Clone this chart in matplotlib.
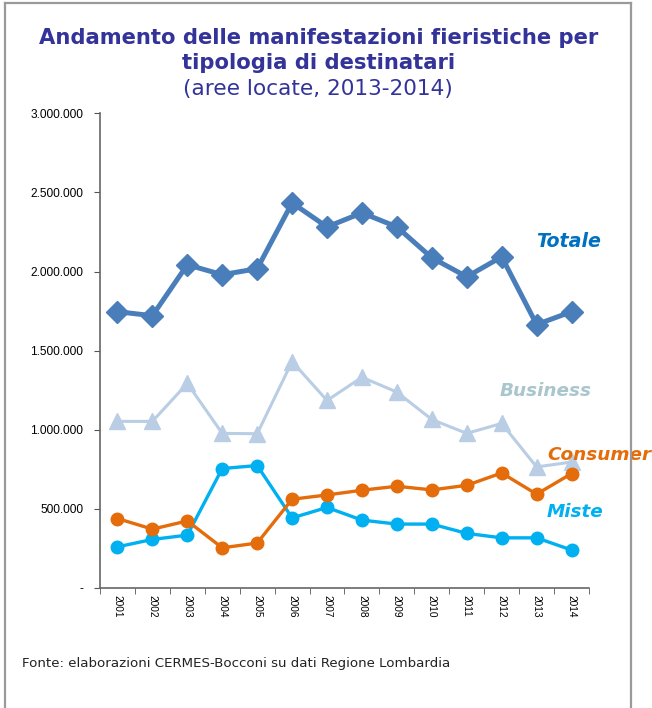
import matplotlib
matplotlib.use('Agg')
import matplotlib.pyplot as plt
from matplotlib.lines import Line2D
from matplotlib.ticker import FuncFormatter

years = ['2001', '2002', '2003', '2004', '2005', '2006', '2007',
         '2008', '2009', '2010', '2011', '2012', '2013', '2014']
totale = [1746000, 1721000, 2043000, 1980000, 2018000, 2434000, 2282000,
          2371000, 2282000, 2087000, 1967000, 2093000, 1665000, 1746000]
business = [1053000, 1053000, 1293000, 977000, 975000, 1431000, 1185000,
            1332000, 1238000, 1065000, 977000, 1040000, 765000, 796000]
consumer = [439000, 372000, 424000, 254000, 284000, 561000, 588000,
            618000, 643000, 620000, 649000, 727000, 593000, 723000]
miste = [260000, 307000, 334000, 755000, 774000, 443000, 509000,
         429000, 404000, 404000, 345000, 317000, 317000, 240000]

fig = plt.figure(figsize=(6.52, 7.08), dpi=100)

# frame round the slide (open at the bottom)
for xs, ys in [([0.007, 0.007], [0.0, 0.996]), ([0.968, 0.968], [0.0, 0.996]),
               ([0.007, 0.968], [0.996, 0.996])]:
    fig.add_artist(Line2D(xs, ys, transform=fig.transFigure, color='#9a9a9a', lw=1.6))

title_col = '#333399'
fig.text(0.488, 0.947, 'Andamento delle manifestazioni fieristiche per',
         ha='center', va='center', fontsize=15.2, fontweight='bold', color=title_col)
fig.text(0.488, 0.911, 'tipologia di destinatari',
         ha='center', va='center', fontsize=15.2, fontweight='bold', color=title_col)
fig.text(0.488, 0.875, '(aree locate, 2013-2014)',
         ha='center', va='center', fontsize=15.6, color=title_col)

ax = fig.add_axes([100 / 652, 1 - 588 / 708, 489 / 652, (588 - 113.3) / 708])
x = list(range(len(years)))

ax.plot(x, totale, color='#4a7ebb', lw=3.6, marker='D', ms=11.5, zorder=5)
ax.plot(x, business, color='#b9cde5', lw=2.2, marker='^', ms=12, zorder=2)
ax.plot(x, consumer, color='#e46c0a', lw=2.4, marker='o', ms=9, zorder=4)
ax.plot(x, miste, color='#00b0f0', lw=2.4, marker='o', ms=9, zorder=3)

ax.set_xlim(-0.5, len(years) - 0.5)
ax.set_ylim(0, 3000000)
ax.set_yticks(range(0, 3000001, 500000))
ax.yaxis.set_major_formatter(FuncFormatter(
    lambda v, p: '-' if v == 0 else f'{int(v):,}'.replace(',', '.')))
ax.set_xticks(x)
ax.set_xticklabels(years, rotation=-90, fontsize=7.3, family='Liberation Sans')
ax.set_xticks([i - 0.5 for i in range(len(years) + 1)], minor=True)
ax.tick_params(axis='x', which='major', length=0, pad=5)
ax.tick_params(axis='x', which='minor', length=4, color='#555555', direction='out')
ax.tick_params(axis='y', length=4, color='#555555', labelsize=8.6, pad=8)
for lab in ax.get_yticklabels():
    lab.set_family('Liberation Sans')

for s in ['top', 'right']:
    ax.spines[s].set_visible(False)
for s in ['left', 'bottom']:
    ax.spines[s].set_color('#666666')
    ax.spines[s].set_linewidth(1.2)

# series labels
lab_kw = dict(fontweight='bold', style='italic', ha='center', va='center', clip_on=False)
ax.text(12.91, 2189000, 'Totale', color='#0070c0', fontsize=13.7, **lab_kw)
ax.text(12.25, 1245000, 'Business', color='#a8c6cc', fontsize=13.2, **lab_kw)
ax.text(13.79, 841000, 'Consumer', color='#e46c0a', fontsize=13.2, **lab_kw)
ax.text(13.10, 482000, 'Miste', color='#00b0f0', fontsize=13.2, **lab_kw)

fig.text(22 / 652, 1 - 663 / 708, 'Fonte: elaborazioni CERMES-Bocconi su dati Regione Lombardia',
         ha='left', va='center', fontsize=9.6, color='#222222')

fig.savefig('out.png', dpi=100)
